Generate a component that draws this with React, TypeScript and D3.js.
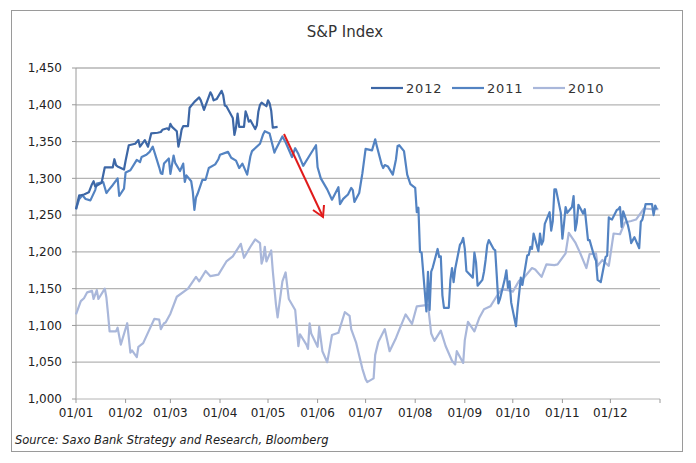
import React from 'react';
import * as d3 from 'd3';

// S&P 500 closes (MM/DD of each year)
const series2010: [string, number][] = [
  ['01/01', 1115], ['01/04', 1133], ['01/06', 1137], ['01/08', 1145], ['01/11', 1147], ['01/12', 1136],
  ['01/14', 1148], ['01/15', 1136], ['01/19', 1150], ['01/20', 1138], ['01/21', 1116], ['01/22', 1092],
  ['01/26', 1092], ['01/27', 1097], ['01/29', 1074], ['02/02', 1103], ['02/04', 1063], ['02/05', 1066],
  ['02/08', 1057], ['02/09', 1071], ['02/12', 1076], ['02/16', 1095], ['02/19', 1109], ['02/22', 1108],
  ['02/23', 1095], ['02/25', 1103], ['02/26', 1104], ['03/01', 1116], ['03/05', 1139], ['03/12', 1150],
  ['03/17', 1166], ['03/19', 1160], ['03/23', 1174], ['03/26', 1167], ['03/31', 1169], ['04/05', 1187],
  ['04/09', 1194], ['04/14', 1211], ['04/16', 1192], ['04/20', 1207], ['04/23', 1217], ['04/26', 1212],
  ['04/27', 1184], ['04/28', 1191], ['04/29', 1207], ['04/30', 1187], ['05/03', 1202], ['05/04', 1174],
  ['05/06', 1128], ['05/07', 1111], ['05/10', 1160], ['05/12', 1172], ['05/14', 1136], ['05/18', 1121],
  ['05/20', 1072], ['05/21', 1088], ['05/25', 1074], ['05/26', 1068], ['05/27', 1103], ['05/28', 1089],
  ['06/01', 1071], ['06/02', 1098], ['06/04', 1065], ['06/07', 1050], ['06/08', 1062], ['06/10', 1087],
  ['06/14', 1090], ['06/18', 1118], ['06/21', 1113], ['06/22', 1095], ['06/25', 1077], ['06/29', 1041],
  ['07/01', 1027], ['07/02', 1023], ['07/06', 1028], ['07/07', 1060], ['07/09', 1078], ['07/13', 1095],
  ['07/16', 1065], ['07/20', 1083], ['07/22', 1094], ['07/26', 1115], ['07/30', 1102], ['08/02', 1126],
  ['08/09', 1128], ['08/11', 1089], ['08/13', 1079], ['08/17', 1093], ['08/20', 1072], ['08/24', 1052],
  ['08/26', 1047], ['08/27', 1065], ['08/31', 1049], ['09/01', 1080], ['09/03', 1105], ['09/07', 1092],
  ['09/10', 1110], ['09/13', 1122], ['09/17', 1126], ['09/21', 1140], ['09/24', 1149], ['09/28', 1148],
  ['10/01', 1146], ['10/05', 1161], ['10/08', 1165], ['10/13', 1178], ['10/15', 1176], ['10/19', 1166],
  ['10/22', 1183], ['10/27', 1182], ['10/29', 1183], ['11/03', 1198], ['11/05', 1226], ['11/09', 1213],
  ['11/12', 1199], ['11/16', 1178], ['11/18', 1197], ['11/22', 1198], ['11/23', 1181], ['11/26', 1189],
  ['11/30', 1181], ['12/03', 1225], ['12/07', 1224], ['12/10', 1240], ['12/14', 1242], ['12/17', 1244],
  ['12/22', 1259], ['12/27', 1258], ['12/31', 1258],
];

const series2011: [string, number][] = [
  ['01/01', 1258], ['01/03', 1272], ['01/05', 1277], ['01/07', 1272], ['01/10', 1270], ['01/13', 1284],
  ['01/14', 1293], ['01/18', 1295], ['01/20', 1280], ['01/21', 1283], ['01/24', 1291], ['01/26', 1297],
  ['01/27', 1300], ['01/28', 1276], ['01/31', 1286], ['02/01', 1308], ['02/04', 1311], ['02/08', 1325],
  ['02/10', 1322], ['02/11', 1329], ['02/14', 1332], ['02/16', 1336], ['02/18', 1343], ['02/22', 1315],
  ['02/23', 1307], ['02/24', 1306], ['02/25', 1320], ['02/28', 1327], ['03/01', 1306], ['03/03', 1331],
  ['03/04', 1321], ['03/07', 1310], ['03/09', 1320], ['03/10', 1295], ['03/11', 1304], ['03/14', 1296],
  ['03/15', 1282], ['03/16', 1257], ['03/17', 1274], ['03/18', 1279], ['03/21', 1298], ['03/23', 1298],
  ['03/25', 1314], ['03/29', 1319], ['03/31', 1326], ['04/01', 1332], ['04/06', 1336], ['04/08', 1328],
  ['04/11', 1324], ['04/13', 1314], ['04/15', 1320], ['04/18', 1305], ['04/20', 1330], ['04/21', 1337],
  ['04/26', 1347], ['04/28', 1360], ['04/29', 1364], ['05/02', 1361], ['05/05', 1335], ['05/06', 1340],
  ['05/10', 1357], ['05/12', 1349], ['05/16', 1329], ['05/18', 1341], ['05/20', 1333], ['05/23', 1317],
  ['05/27', 1331], ['05/31', 1345], ['06/01', 1315], ['06/03', 1300], ['06/07', 1285], ['06/10', 1271],
  ['06/14', 1288], ['06/15', 1265], ['06/17', 1272], ['06/20', 1278], ['06/22', 1287], ['06/23', 1284],
  ['06/24', 1268], ['06/27', 1280], ['06/29', 1307], ['07/01', 1340], ['07/05', 1338], ['07/07', 1353],
  ['07/08', 1344], ['07/11', 1319], ['07/12', 1314], ['07/13', 1318], ['07/15', 1316], ['07/18', 1305],
  ['07/20', 1326], ['07/21', 1344], ['07/22', 1345], ['07/25', 1337], ['07/27', 1305], ['07/29', 1292],
  ['08/01', 1287], ['08/02', 1254], ['08/03', 1260], ['08/04', 1200], ['08/05', 1199], ['08/08', 1119],
  ['08/09', 1173], ['08/10', 1121], ['08/11', 1173], ['08/12', 1179], ['08/15', 1204], ['08/16', 1193],
  ['08/17', 1194], ['08/18', 1141], ['08/19', 1124], ['08/22', 1124], ['08/23', 1162], ['08/24', 1178],
  ['08/25', 1159], ['08/26', 1177], ['08/29', 1210], ['08/30', 1213], ['08/31', 1219], ['09/01', 1204],
  ['09/02', 1174], ['09/06', 1165], ['09/07', 1199], ['09/08', 1186], ['09/09', 1154], ['09/12', 1162],
  ['09/13', 1173], ['09/14', 1189], ['09/15', 1209], ['09/16', 1216], ['09/19', 1204], ['09/20', 1202],
  ['09/21', 1167], ['09/22', 1130], ['09/23', 1136], ['09/26', 1163], ['09/27', 1175], ['09/28', 1151],
  ['09/29', 1160], ['09/30', 1131], ['10/03', 1099], ['10/04', 1124], ['10/05', 1144], ['10/06', 1165],
  ['10/07', 1155], ['10/10', 1195], ['10/11', 1196], ['10/12', 1207], ['10/13', 1204], ['10/14', 1225],
  ['10/17', 1201], ['10/18', 1225], ['10/19', 1210], ['10/20', 1215], ['10/21', 1238], ['10/24', 1254],
  ['10/25', 1229], ['10/26', 1242], ['10/27', 1285], ['10/28', 1285], ['10/31', 1253], ['11/01', 1218],
  ['11/02', 1238], ['11/03', 1261], ['11/04', 1253], ['11/07', 1261], ['11/08', 1276], ['11/09', 1229],
  ['11/10', 1240], ['11/11', 1264], ['11/14', 1252], ['11/15', 1258], ['11/16', 1237], ['11/17', 1216],
  ['11/18', 1216], ['11/21', 1193], ['11/22', 1188], ['11/23', 1162], ['11/25', 1159], ['11/28', 1193],
  ['11/29', 1195], ['11/30', 1247], ['12/01', 1245], ['12/02', 1244], ['12/05', 1257], ['12/06', 1258],
  ['12/07', 1261], ['12/08', 1234], ['12/09', 1255], ['12/12', 1236], ['12/13', 1226], ['12/14', 1212],
  ['12/15', 1216], ['12/16', 1220], ['12/19', 1205], ['12/20', 1241], ['12/21', 1244], ['12/22', 1254],
  ['12/23', 1265], ['12/27', 1265], ['12/28', 1250], ['12/29', 1263], ['12/30', 1258],
];

const series2012: [string, number][] = [
  ['01/01', 1258], ['01/03', 1277], ['01/04', 1277], ['01/06', 1278], ['01/09', 1281], ['01/11', 1292],
  ['01/12', 1296], ['01/13', 1289], ['01/17', 1294], ['01/19', 1315], ['01/20', 1315], ['01/24', 1315],
  ['01/25', 1326], ['01/26', 1318], ['01/27', 1316], ['01/30', 1313], ['01/31', 1312], ['02/01', 1324],
  ['02/03', 1345], ['02/07', 1347], ['02/09', 1352], ['02/10', 1343], ['02/13', 1352], ['02/15', 1343],
  ['02/17', 1361], ['02/21', 1362], ['02/23', 1363], ['02/24', 1366], ['02/27', 1368], ['02/28', 1366],
  ['03/01', 1374], ['03/02', 1370], ['03/05', 1364], ['03/06', 1343], ['03/07', 1353], ['03/08', 1366],
  ['03/09', 1371], ['03/12', 1371], ['03/13', 1396], ['03/16', 1404], ['03/19', 1410], ['03/20', 1406],
  ['03/22', 1393], ['03/26', 1417], ['03/27', 1413], ['03/28', 1406], ['03/30', 1408], ['04/02', 1419],
  ['04/03', 1413], ['04/04', 1399], ['04/05', 1398], ['04/09', 1382], ['04/10', 1359], ['04/11', 1369],
  ['04/12', 1388], ['04/13', 1370], ['04/16', 1370], ['04/17', 1391], ['04/18', 1385], ['04/19', 1377],
  ['04/20', 1379], ['04/23', 1367], ['04/24', 1372], ['04/25', 1391], ['04/26', 1400], ['04/27', 1403],
  ['04/30', 1398], ['05/01', 1406], ['05/02', 1402], ['05/03', 1392], ['05/04', 1369], ['05/07', 1370],
];

const yTicks = [1000, 1050, 1100, 1150, 1200, 1250, 1300, 1350, 1400, 1450];
const monthLabels = ['01/01', '01/02', '01/03', '01/04', '01/05', '01/06', '01/07', '01/08', '01/09', '01/10', '01/11', '01/12'];

const seriesList = [
  { name: '2012', data: series2012, color: '#3d67a6' },
  { name: '2011', data: series2011, color: '#5383c2' },
  { name: '2010', data: series2010, color: '#a9b7da' },
];

const W = 696;
const H = 463;
const plot = { left: 76, right: 660, top: 68, bottom: 399 };
const font = "'DejaVu Sans', Verdana, sans-serif";

const toDate = (md: string) => {
  const [m, d] = md.split('/').map(Number);
  return new Date(2001, m - 1, d);
};

const App: React.FC = () => {
  const x = d3.scaleTime()
    .domain([new Date(2001, 0, 1), new Date(2002, 0, 1)])
    .range([plot.left, plot.right]);
  const y = d3.scaleLinear().domain([1000, 1450]).range([plot.bottom, plot.top]);

  const line = d3.line<[string, number]>()
    .x(d => x(toDate(d[0])))
    .y(d => y(d[1]));

  const monthTicks = d3.timeMonth.range(new Date(2001, 0, 1), new Date(2002, 0, 2));

  return (
    <svg width={W} height={H} style={{ position: 'absolute', left: 0, top: 0, background: '#fff' }}>
      <rect x={11.5} y={10.5} width={671} height={441} fill="#fff" stroke="#9a9a9a" />
      <text x={345} y={37} textAnchor="middle" fontFamily={font} fontSize={15} fill="#333">S&amp;P Index</text>

      {/* grid */}
      {yTicks.slice(1).map(t => (
        <line key={t} x1={plot.left} x2={plot.right} y1={y(t)} y2={y(t)} stroke="#b4b4b4" strokeWidth={1.3} />
      ))}
      {/* y axis */}
      <line x1={plot.left} x2={plot.left} y1={plot.top} y2={plot.bottom} stroke="#9a9a9a" />
      {yTicks.map(t => (
        <g key={t}>
          <line x1={plot.left - 4} x2={plot.left} y1={y(t)} y2={y(t)} stroke="#9a9a9a" />
          <text x={62} y={y(t)} dy="0.35em" textAnchor="end" fontFamily={font} fontSize={12} fill="#222">
            {d3.format(',')(t)}
          </text>
        </g>
      ))}
      {/* x axis */}
      <line x1={plot.left} x2={plot.right} y1={plot.bottom} y2={plot.bottom} stroke="#b4b4b4" />
      {monthTicks.map((d, i) => (
        <line key={i} x1={x(d)} x2={x(d)} y1={plot.bottom} y2={plot.bottom + 4} stroke="#9a9a9a" />
      ))}
      {monthLabels.map((lab, i) => (
        <text key={lab} x={x(monthTicks[i])} y={417} textAnchor="middle" fontFamily={font} fontSize={12} fill="#222">
          {lab}
        </text>
      ))}

      {/* series, 2010 underneath */}
      {[...seriesList].reverse().map(s => (
        <path key={s.name} d={line(s.data) || ''} fill="none" stroke={s.color} strokeWidth={2.2} strokeLinejoin="round" />
      ))}

      {/* legend */}
      {seriesList.map((s, i) => {
        const lx = [371, 452, 533][i];
        return (
          <g key={s.name}>
            <line x1={lx} x2={lx + 32} y1={88} y2={88} stroke={s.color} strokeWidth={2.2} />
            <text x={lx + 35} y={88} dy="0.35em" fontFamily={font} fontSize={13} letterSpacing={0.8} fill="#333">{s.name}</text>
          </g>
        );
      })}

      {/* red arrow */}
      <line x1={284} y1={134} x2={323} y2={217} stroke="#e01b1b" strokeWidth={2} />
      <polyline points="313,210 323,217 324,205" fill="none" stroke="#e01b1b" strokeWidth={2} />

      <text x={15} y={444} fontFamily={font} fontSize={11.5} fontStyle="italic" fill="#222">
        Source: Saxo Bank Strategy and Research, Bloomberg
      </text>
    </svg>
  );
};

export default App;
